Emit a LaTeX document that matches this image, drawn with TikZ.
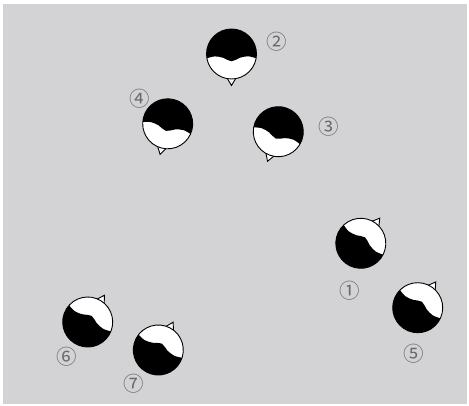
\documentclass[tikz,border=0pt]{standalone}
\usepackage{fontspec}
\newfontfamily\cjk{Noto Sans CJK JP}
\definecolor{bgc}{RGB}{211,211,213}
\definecolor{lblc}{RGB}{105,105,105}
\tikzset{
  headline/.style={line width=0.9pt, draw=black},
  lbl/.style={text=lblc, font=\cjk\fontsize{20.5}{20.5}\selectfont, inner sep=0pt},
  head/.pic={
    \draw[headline, fill=white, line join=miter] (-6,21.5) -- (0,31.5) -- (6,21.5) -- cycle;
    \fill[white] (0,0) circle (25);
    \begin{scope}
      \clip (0,0) circle (25);
      \fill[black] (-30,-30) -- (-30,4.3) -- plot[smooth, tension=0.6] coordinates {(-24.5,4.3) (-16.7,2.4) (-8.3,3.8) (0,7.3) (8.3,3.8) (16.7,2.3) (24.5,4.3)} -- (30,4.3) -- (30,-30) -- cycle;
    \end{scope}
    \draw[headline] (0,0) circle (25);
  }
}
\begin{document}
\begin{tikzpicture}[x=1pt,y=-1pt]
\useasboundingbox (0,0) rectangle (469,406);
\fill[bgc] (3,4) rectangle (467,404);
\pic (h2) [rotate=0] at (231.5,54) {head};
\pic (h4) [rotate=-14] at (167.7,123.8) {head};
\pic (h3) [rotate=-20] at (278.3,131.7) {head};
\pic (h1) [rotate=143] at (360.8,243.3) {head};
\pic (h5) [rotate=145] at (417.7,307.7) {head};
\pic (h6) [rotate=148] at (87.7,322) {head};
\pic (h7) [rotate=152] at (158.3,350) {head};
\node[lbl] (l2) at (277,41.7) {②};
\node[lbl] (l4) at (140,98.3) {④};
\node[lbl] (l3) at (328.3,126.7) {③};
\node[lbl] (l1) at (350,291) {①};
\node[lbl] (l5) at (413.3,354) {⑤};
\node[lbl] (l6) at (66.7,356.7) {⑥};
\node[lbl] (l7) at (133.3,384) {⑦};
\end{tikzpicture}
\end{document}
